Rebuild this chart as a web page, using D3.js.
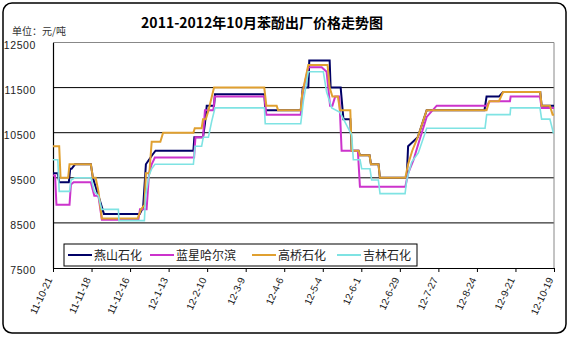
<!DOCTYPE html>
<html>
<head>
<meta charset="utf-8">
<script src="https://cdn.jsdelivr.net/npm/d3@7/dist/d3.min.js"></script>
<style>
  html, body { margin: 0; padding: 0; background: #fff; }
  svg { display: block; }
</style>
</head>
<body>
<svg id="chart" width="570" height="337"></svg>
<script>
// Axis labels: one date every 28 days, starting 2011-10-21
const dateLabels = ["11-10-21", "11-11-18", "11-12-16", "12-1-13", "12-2-10", "12-3-9", "12-4-6",
  "12-5-4", "12-6-1", "12-6-29", "12-7-27", "12-8-24", "12-9-21", "12-10-19"];
const yTicks = [7500, 8500, 9500, 10500, 11500, 12500];

// Producer names (legend order)
const seriesNames = ["燕山石化", "蓝星哈尔滨", "高桥石化", "吉林石化"];

// Ex-works prices, yuan/ton: [days since 2011-10-21, price]
const yanshan = [[0,9600],[3.5,9600],[4.5,9400],[11.5,9400],[12.5,9700],[13.5,9700],[16,9800],[27.5,9800],
  [29,9500],[32,9200],[35,8900],[37,8700],[63,8700],[65.5,8850],[67.5,9800],[72,10000],[74.5,10100],
  [102,10100],[102.7,10400],[109,10400],[110.4,10700],[111.7,11100],[117,11100],[117.7,11350],
  [153.6,11350],[154.2,11000],[180,11000],[181.5,11500],[185.5,11500],[186.2,12100],[201,12100],
  [201.7,11500],[209,11500],[211,10800],[216,10800],[217,10100],[222,10100],[223,10000],[230,10000],
  [231,9800],[236.5,9800],[237.5,9500],[257,9500],[258,10200],[265,10400],[271.5,11000],[313.5,11000],
  [315,11300],[324,11300],[327,11400],[354,11400],[355,11100],[364,11100]];

const lanxing = [[0,9550],[1.5,9550],[2.5,8900],[12,8900],[13,9350],[15,9400],[27.5,9400],[30,9100],
  [33,9100],[35.5,8570],[62,8570],[63.2,8800],[68,8800],[69.8,9600],[71.7,9800],[74,9950],[102.5,9950],
  [103.5,10400],[109,10400],[110.4,11000],[116.5,11000],[117.5,11300],[153.6,11300],[155,10900],
  [180,10900],[181.5,11400],[185.5,11950],[195.2,11950],[198.8,11850],[201.3,11100],[203,11100],
  [205,11300],[208,11300],[209.7,10100],[221.5,10100],[223,9300],[256,9300],[258,9600],[262,9900],
  [265.4,10250],[271.5,10850],[278.8,11100],[315,11100],[317.5,11200],[332,11200],[332.5,11300],
  [353.8,11300],[355,11050],[364,11050]];

const gaoqiao = [[0,10200],[4.5,10200],[5.5,9500],[11,9500],[12,9800],[27.5,9800],[29,9500],[31,9500],
  [33,9200],[35.5,8600],[61.5,8600],[64,8800],[66.5,8900],[67.5,9600],[70,9600],[71.7,10300],[78,10300],
  [80,10500],[102,10500],[103,10600],[108,10600],[109,10800],[111,10800],[113,11000],[117,11500],
  [153.5,11500],[155,11100],[162.5,11100],[163.5,11000],[180,11000],[181,11350],[185.5,12000],
  [199.5,12000],[201,11500],[203,11300],[207,11300],[208.5,11000],[216,11000],[217,10100],[222,10100],
  [223,10000],[230,10000],[231,9800],[236.5,9800],[237.5,9500],[256,9500],[258,9800],[261,10100],
  [265,10400],[271.5,11000],[315,11000],[317,11200],[324,11200],[327,11400],[354,11400],[355,11100],
  [361,11100],[363,10900],[364,10900]];

const jilin = [[0,9900],[3.5,9900],[4.5,9200],[12,9200],[13.1,9450],[16,9500],[27.6,9500],[30,9200],
  [33,9100],[35.4,8800],[47.5,8800],[47.9,8550],[66.4,8550],[67.3,9100],[69.8,9550],[71.7,9700],
  [74.1,9800],[102,9800],[103.2,10200],[108,10200],[109.2,10400],[112.9,10400],[115.3,10750],
  [117.7,11050],[153.6,11050],[154.2,10700],[180,10700],[181.9,11200],[185.5,11850],[196.4,11850],
  [198.8,11400],[202.5,11050],[208.5,10950],[217,10450],[218.2,9900],[223.1,9900],[224.3,9700],
  [230.3,9700],[231.5,9450],[236.4,9450],[237.6,9150],[255.8,9150],[257,9450],[260.6,9850],
  [265.4,10050],[271.5,10600],[313.9,10600],[315.1,10900],[332.1,10900],[332.5,11050],[353.8,11050],
  [355,10800],[361,10800],[363.5,10500],[364,10500]];

const seriesColors = ["#000066", "#cc33cc", "#e0a030", "#7fe3e3"];
const seriesWidths = [2, 2, 2, 1.6];
const allSeries = [yanshan, lanxing, gaoqiao, jilin];

const svg = d3.select("#chart");
const plot = { left: 53, right: 554, top: 42.5, bottom: 268 };

const x = d3.scaleLinear().domain([0, 364]).range([plot.left, plot.right]);
const y = d3.scaleLinear().domain([7500, 12500]).range([plot.bottom, plot.top]);

// Outer frame
svg.append("rect")
  .attr("x", 3).attr("y", 3).attr("width", 563).attr("height", 330)
  .attr("rx", 9).attr("ry", 9)
  .attr("fill", "#fff").attr("stroke", "#000").attr("stroke-width", 1.5);

// Unit note and title
svg.append("text")
  .attr("x", 12).attr("y", 35)
  .attr("font-family", "'Noto Sans CJK SC', sans-serif")
  .attr("font-size", 10).attr("fill", "#333")
  .text("单位：元/吨");

svg.append("text")
  .attr("x", 262).attr("y", 28)
  .attr("text-anchor", "middle")
  .attr("font-family", "'Noto Sans CJK SC', sans-serif")
  .attr("font-size", 14).attr("font-weight", "bold").attr("fill", "#000")
  .text("2011-2012年10月苯酚出厂价格走势图");

// Horizontal gridlines
svg.append("g")
  .selectAll("line")
  .data(yTicks.filter(v => v > 7500 && v < 12500))
  .join("line")
  .attr("x1", plot.left).attr("x2", plot.right)
  .attr("y1", d => y(d)).attr("y2", d => y(d))
  .attr("stroke", "#000").attr("stroke-width", 1);

// Plot frame (top and right in grey)
svg.append("path")
  .attr("d", `M${plot.left},${y(12500)}H${plot.right}V${plot.bottom}`)
  .attr("fill", "none").attr("stroke", "#888").attr("stroke-width", 1);

// Y axis
const yAxis = svg.append("g")
  .attr("transform", `translate(${plot.left},0)`)
  .call(d3.axisLeft(y).tickValues(yTicks).tickSize(0).tickPadding(17).tickFormat(d3.format("d")));
yAxis.select(".domain").attr("stroke", "#000").attr("stroke-width", 1.2);
yAxis.selectAll("text")
  .attr("font-family", "'Liberation Sans', Arial, sans-serif")
  .attr("font-size", 10.5).attr("fill", "#222").attr("letter-spacing", 0.6)
  .attr("dy", "0.55em");

// X axis
const xTickDays = dateLabels.map((d, i) => i * 28);
const xAxis = svg.append("g")
  .attr("transform", `translate(0,${plot.bottom})`)
  .call(d3.axisBottom(x).tickValues(xTickDays).tickSize(4).tickSizeOuter(0)
    .tickFormat((d, i) => dateLabels[i]));
xAxis.select(".domain").attr("stroke", "#000").attr("stroke-width", 1.2);
xAxis.selectAll(".tick line").attr("stroke", "#000");
xAxis.selectAll("text")
  .attr("font-family", "'Liberation Sans', Arial, sans-serif")
  .attr("font-size", 10).attr("fill", "#222")
  .attr("text-anchor", "end")
  .attr("dy", "0.35em")
  .attr("transform", "translate(-4,10) rotate(-65)")
  .attr("y", 0).attr("x", 0);

// Price lines
const line = d3.line().x(d => x(d[0])).y(d => y(d[1]));
svg.append("g")
  .selectAll("path")
  .data(allSeries)
  .join("path")
  .attr("d", line)
  .attr("fill", "none")
  .attr("stroke", (d, i) => seriesColors[i])
  .attr("stroke-width", (d, i) => seriesWidths[i])
  .attr("stroke-linejoin", "miter");

// Legend
const legend = svg.append("g");
legend.append("rect")
  .attr("x", 64).attr("y", 244).attr("width", 353).attr("height", 22)
  .attr("fill", "#fff").attr("stroke", "#000").attr("stroke-width", 1);
const legendX = [68, 150, 252, 337];
seriesNames.forEach((name, i) => {
  legend.append("line")
    .attr("x1", legendX[i]).attr("x2", legendX[i] + 24)
    .attr("y1", 255).attr("y2", 255)
    .attr("stroke", seriesColors[i]).attr("stroke-width", 2);
  legend.append("text")
    .attr("x", legendX[i] + 26).attr("y", 259.5)
    .attr("font-family", "'Noto Sans CJK SC', sans-serif")
    .attr("font-size", 12).attr("fill", "#222")
    .text(name);
});
</script>
</body>
</html>
